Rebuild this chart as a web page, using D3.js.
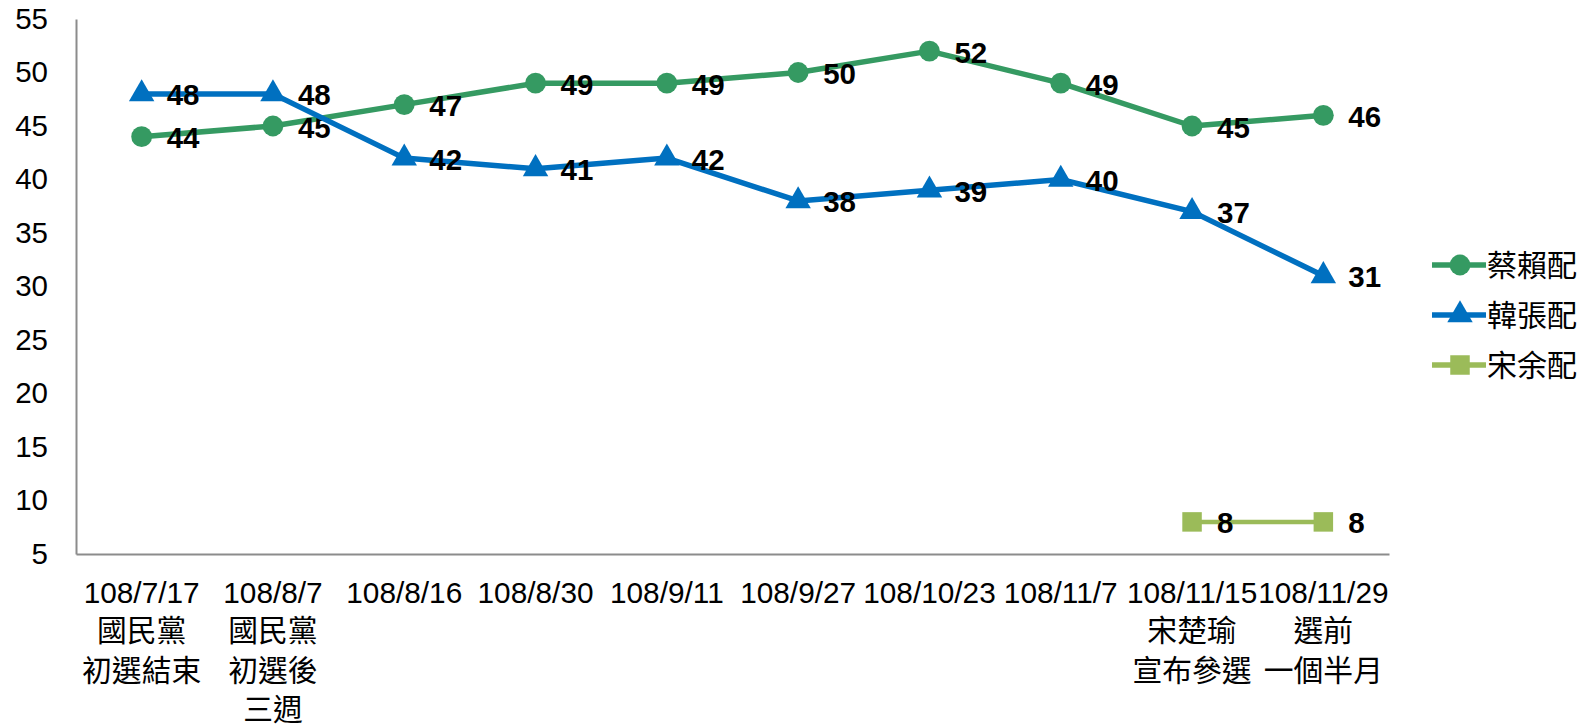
<!DOCTYPE html>
<html>
<head>
<meta charset="utf-8">
<script src="https://cdn.jsdelivr.net/npm/d3@7"></script>
<style>
  html, body { margin: 0; padding: 0; background: #fff; }
  svg { display: block; }
</style>
</head>
<body>
<svg id="chart" width="1586" height="725"></svg>
<script>
// ---- data ----
const categories = ["108/7/17", "108/8/7", "108/8/16", "108/8/30", "108/9/11", "108/9/27", "108/10/23", "108/11/7", "108/11/15", "108/11/29"];
const subLabels = [
  ["國民黨", "初選結束"],
  ["國民黨", "初選後", "三週"],
  [], [], [], [], [], [],
  ["宋楚瑜", "宣布參選"],
  ["選前", "一個半月"]
];
const seriesNames = ["蔡賴配", "韓張配", "宋余配"];
const tsaiLai = [44, 45, 47, 49, 49, 50, 52, 49, 45, 46];
const hanChang = [48, 48, 42, 41, 42, 38, 39, 40, 37, 31];
const soongYu = [null, null, null, null, null, null, null, null, 8, 8];
const yTicks = [5, 10, 15, 20, 25, 30, 35, 40, 45, 50, 55];

// ---- layout ----
const svg = d3.select("#chart");
const plotLeft = 76, plotRight = 1389, plotTop = 19, plotBottom = 554;
const latin = "'Liberation Sans', Arial, sans-serif";
const cjk = "'Liberation Sans', 'Noto Sans CJK TC', sans-serif";

const x = d3.scaleBand().domain(categories).range([plotLeft, plotRight]).paddingInner(0).paddingOuter(0);
const cx = d => x(d) + x.bandwidth() / 2;
const y = d3.scaleLinear().domain([5, 55]).range([plotBottom, plotTop]);

// y axis
const yAxis = svg.append("g").attr("transform", `translate(${plotLeft},0)`)
  .call(d3.axisLeft(y).tickValues(yTicks).tickSize(0).tickPadding(28).tickFormat(d3.format("d")));
yAxis.select(".domain").attr("stroke", "#8c8c8c").attr("stroke-width", 2);
yAxis.selectAll("text").attr("font-family", latin).attr("font-size", 29.5).attr("fill", "#000");

// x axis
const xAxis = svg.append("g").attr("transform", `translate(0,${plotBottom})`)
  .call(d3.axisBottom(x).tickSize(0).tickPadding(0));
xAxis.select(".domain").attr("stroke", "#8c8c8c").attr("stroke-width", 2);
xAxis.selectAll(".tick text").each(function(d, i) {
  const t = d3.select(this);
  t.text(null).attr("y", 0).attr("dy", null).attr("fill", "#000").attr("font-size", 29.8);
  t.append("tspan").attr("x", 0).attr("y", 49).attr("font-family", latin).text(d);
  subLabels[i].forEach((s, j) => {
    t.append("tspan").attr("x", 0).attr("y", 87 + j * 39.5).attr("font-family", cjk).text(s);
  });
});

// ---- series ----
const series = [
  { name: seriesNames[0], values: tsaiLai, color: "#359a62", shape: d3.symbolCircle, size: 340 },
  { name: seriesNames[1], values: hanChang, color: "#0070c0", shape: d3.symbolTriangle, size: 280 },
  { name: seriesNames[2], values: soongYu, color: "#9bbb59", shape: d3.symbolSquare, size: 380 }
];

const line = d3.line()
  .defined(d => d.v !== null)
  .x(d => cx(d.c))
  .y(d => y(d.v));

series.forEach(s => {
  const pts = categories.map((c, i) => ({ c, v: s.values[i] }));
  const g = svg.append("g");
  g.append("path").datum(pts)
    .attr("d", line)
    .attr("fill", "none")
    .attr("stroke", s.color)
    .attr("stroke-width", s.name === seriesNames[2] ? 4.5 : 5.5)
    .attr("stroke-linejoin", "round");
  const valid = pts.filter(p => p.v !== null);
  g.selectAll("path.m").data(valid).enter().append("path")
    .attr("class", "m")
    .attr("d", d3.symbol().type(s.shape).size(s.size))
    .attr("transform", d => `translate(${cx(d.c)},${y(d.v)})`)
    .attr("fill", s.color);
  g.selectAll("text").data(valid).enter().append("text")
    .attr("x", d => cx(d.c) + 25)
    .attr("y", d => y(d.v) + 11.5)
    .attr("font-family", latin)
    .attr("font-weight", "bold")
    .attr("font-size", 29.5)
    .attr("fill", "#000")
    .text(d => d.v);
});

// ---- legend ----
const legend = svg.append("g");
series.forEach((s, i) => {
  const ly = 265 + i * 50;
  legend.append("line")
    .attr("x1", 1432).attr("x2", 1486).attr("y1", ly).attr("y2", ly)
    .attr("stroke", s.color).attr("stroke-width", 5.5);
  legend.append("path")
    .attr("d", d3.symbol().type(s.shape).size(s.size))
    .attr("transform", `translate(1460,${ly})`)
    .attr("fill", s.color);
  legend.append("text")
    .attr("x", 1487).attr("y", ly + 11)
    .attr("font-family", cjk).attr("font-size", 30).attr("fill", "#000")
    .text(s.name);
});
</script>
</body>
</html>
